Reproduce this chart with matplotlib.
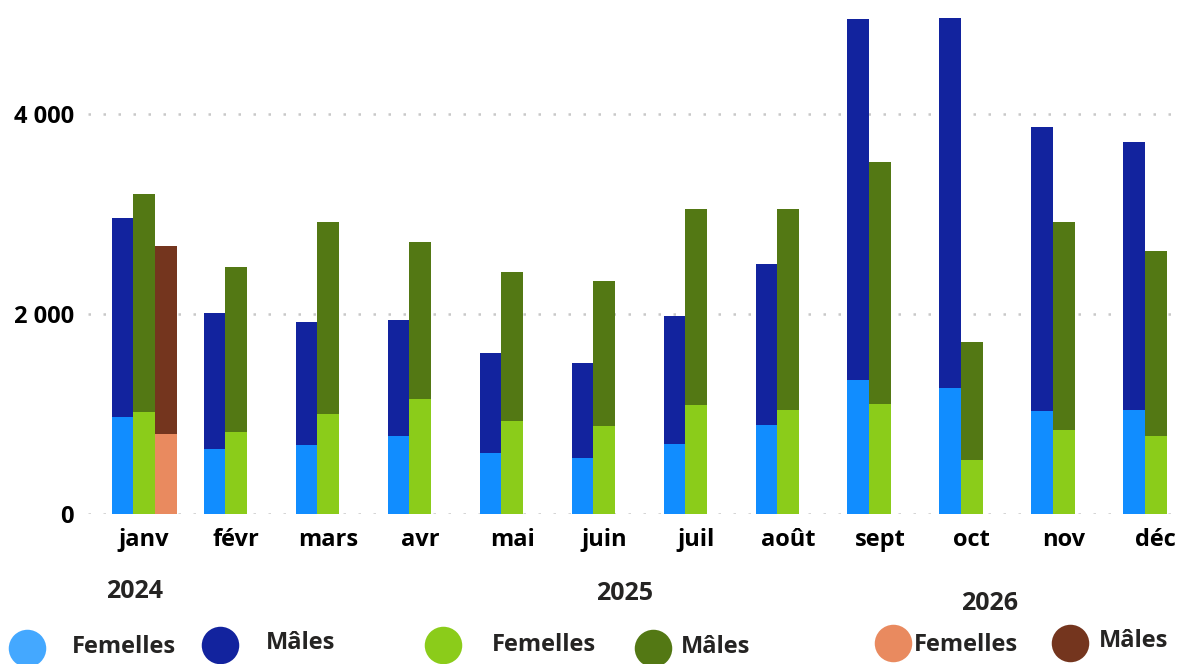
import numpy as np
import matplotlib.pyplot as plt
from matplotlib.lines import Line2D

# --- données ---
mois = ['janv', 'févr', 'mars', 'avr', 'mai', 'juin', 'juil', 'août', 'sept', 'oct', 'nov', 'déc']

fem_2024 = [973, 655, 694, 776, 615, 565, 696, 886, 1344, 1265, 1033, 1044]
tot_2024 = [2959, 2007, 1925, 1940, 1609, 1508, 1980, 2502, 4947, 4958, 3875, 3725]

fem_2025 = [1023, 823, 1005, 1147, 926, 876, 1087, 1037, 1105, 543, 844, 783]
tot_2025 = [3199, 2469, 2919, 2722, 2421, 2331, 3053, 3053, 3525, 1716, 2917, 2634]

fem_2026 = [805]
tot_2026 = [2676]

annees = ['2024', '2025', '2026']
couleurs = {
    '2024': ('#118DFF', '#12239E'),
    '2025': ('#8BCC1A', '#537814'),
    '2026': ('#E98A5F', '#74351E'),
}
legende_fem = {'2024': '#44A8FF', '2025': '#8BCC1A', '2026': '#E98A5F'}

plt.rcParams['font.family'] = ['Open Sans', 'DejaVu Sans']

W, H = 1177, 664
fig = plt.figure(figsize=(W / 100, H / 100), dpi=100)
ax = fig.add_axes([88 / W, (H - 514) / H, 1 - 88 / W, 514 / H])

x = np.arange(len(mois))
w = 0.235
series = [(fem_2024, tot_2024), (fem_2025, tot_2025), (fem_2026, tot_2026)]
for k, (an, (fem, tot)) in enumerate(zip(annees, series)):
    n = len(fem)
    fem = np.array(fem)
    males = np.array(tot) - fem
    pos = x[:n] + (k - 1) * w
    c_f, c_m = couleurs[an]
    ax.bar(pos, fem, width=w, color=c_f, linewidth=0, zorder=2)
    ax.bar(pos, males, width=w, bottom=fem, color=c_m, linewidth=0, zorder=2)

ax.set_xlim(-0.61, 11.23)
ax.set_ylim(0, 5140)
ax.set_yticks([0, 2000, 4000])
ax.set_yticklabels(['0', '2 000', '4 000'])
ax.set_xticks(x)
ax.set_xticklabels(mois)
ax.tick_params(length=0, labelsize=17, pad=10)
ax.tick_params(axis='x', pad=10)
for lab in ax.get_xticklabels() + ax.get_yticklabels():
    lab.set_fontweight('bold')
ax.grid(axis='y', color='#C8C8C8', linestyle=(0, (1, 5)), linewidth=1.8, zorder=1)
for s in ax.spines.values():
    s.set_visible(False)

# --- légende (positions en pixels) ---
def px(xp, yp):
    return xp / W, 1 - yp / H

texte = '#252423'
titres = [('2024', 135, 592), ('2025', 625, 594), ('2026', 990, 604)]
for t, xp, yp in titres:
    fig.text(*px(xp, yp), t, ha='center', va='center', fontsize=18,
             fontweight='bold', color=texte)

items = [
    ('2024', 27, 648, 'Femelles', 124, 647, 0),
    ('2024', 220, 645, 'Mâles', 301, 643, 1),
    ('2025', 443, 645, 'Femelles', 544, 645, 0),
    ('2025', 653, 648, 'Mâles', 716, 647, 1),
    ('2026', 893, 643, 'Femelles', 966, 645, 0),
    ('2026', 1070, 643, 'Mâles', 1134, 641, 1),
]
for an, cx, cy, lab, tx, ty, m in items:
    col = legende_fem[an] if m == 0 else couleurs[an][1]
    fx, fy = px(cx, cy)
    fig.add_artist(Line2D([fx], [fy], marker='o', markersize=27, color=col,
                          markeredgewidth=0, linestyle='none',
                          transform=fig.transFigure))
    fig.text(*px(tx, ty), lab, ha='center', va='center', fontsize=17,
             fontweight='bold', color=texte)

fig.savefig('out.png', dpi=100)
